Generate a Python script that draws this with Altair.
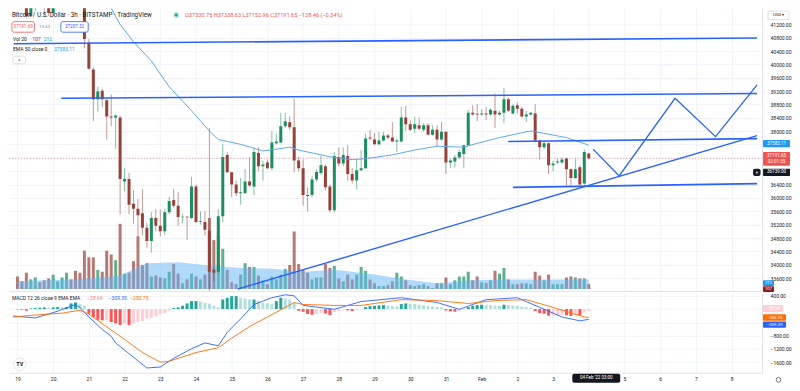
import altair as alt
import pandas as pd

# ---------------- data (3h bars, BTC/USD Bitstamp) ----------------
START = pd.Timestamp("2022-01-19 00:00")

opens = [42350, 42050, 41800, 41450, 41700, 42000, 41900, 41800, 41540, 42300, 42400, 42900, 43100, 43000, 42500, 41900,
         40650, 39850, 38960, 39210, 38930, 38440, 38410, 38410, 36490, 36570,
         35830, 35680, 35540, 35110, 34710, 35400, 35170, 35000, 35570, 35940,
         35770, 35420, 35440, 35400, 36340, 35280, 35280, 35020, 33850, 33790,
         35450, 37290, 36770, 36400, 36140, 36140, 36490, 36340, 37350, 36950,
         37060, 36890, 37640, 37660, 38150, 38270, 38120, 37120, 36890, 36090,
         36090, 36550, 36750, 36950, 36340, 35630, 37230, 37030, 37260, 36720,
         36520, 36830, 36890, 37810, 37750, 37610, 37720, 37870, 37810, 37690,
         37690, 38410, 38210, 38070, 38180, 38040, 38180, 37890, 38040, 37750,
         37980, 37060, 37090, 37210, 37320, 37580, 38550, 38520, 38500, 38530,
         38500, 38610, 38500, 38550, 38960, 38530, 38780, 38670, 38440, 38500,
         38530, 37720, 37520, 37640, 36980, 37060, 37060, 37180, 36860, 36600,
         36920, 36430, 37330.75]
highs = [42550, 42200, 41900, 41850, 42100, 42300, 42000, 41900, 42400, 42600, 43100, 43300, 43500, 43200, 42700, 41950,
         40760, 39900, 39330, 39270, 38960, 39100, 38500, 38470, 36890, 36750,
         36230, 35970, 36260, 35250, 35570, 35660, 35660, 35660, 36030, 36260,
         36170, 35540, 35460, 36630, 36400, 35600, 35600, 38100, 33930, 35660,
         37610, 37380, 36780, 36520, 36600, 36860, 37210, 37490, 37520, 37120,
         37150, 38010, 37920, 38550, 38550, 38440, 38980, 37230, 37150, 36320,
         36660, 36860, 37260, 37000, 36400, 37380, 37520, 37520, 37580, 36890,
         37150, 37430, 37920, 38040, 37950, 37980, 37980, 37920, 38270, 37780,
         38730, 38760, 38320, 38440, 38410, 38240, 38240, 38180, 38180, 38270,
         37990, 37180, 37290, 37440, 37580, 38640, 38780, 38810, 38670, 38730,
         38700, 39130, 38610, 39300, 39010, 38810, 38870, 38730, 38610, 38580,
         38810, 37750, 37720, 37660, 37120, 37180, 37210, 37210, 36890, 37180,
         36980, 37460, 37338.63]
lows = [41900, 41700, 41380, 41420, 41600, 41800, 41500, 41450, 41500, 42100, 42300, 42700, 42800, 42400, 41800, 40480,
        39850, 38300, 38580, 38730, 37750, 38150, 37470, 35510, 36200, 35510,
        35230, 34850, 34880, 34510, 34360, 35000, 34850, 34900, 35510, 35710,
        35170, 35250, 34740, 35370, 35250, 35200, 34880, 32950, 33500, 33730,
        35280, 36750, 36030, 36060, 35800, 36140, 36340, 36090, 36800, 36520,
        36860, 36830, 37610, 37640, 38100, 38040, 36770, 36800, 35770, 35600,
        36030, 36490, 36690, 36230, 35570, 35570, 36950, 36950, 36520, 36430,
        36260, 36800, 36860, 37720, 37580, 37580, 37690, 37750, 37670, 37380,
        37670, 38010, 38010, 37950, 38040, 37980, 37870, 37870, 37520, 37720,
        36720, 36890, 36920, 37180, 36890, 37560, 38470, 38300, 38470, 38330,
        38470, 38100, 38470, 38240, 38580, 38500, 38530, 38410, 38270, 38470,
        37660, 37150, 37460, 36720, 36800, 37030, 37030, 36370, 36320, 36570,
        36340, 36340, 37152.96]
closes = [42050, 41800, 41450, 41760, 42000, 41900, 41800, 41540, 42300, 42400, 42900, 43100, 43000, 42500, 41900, 40760,
          39870, 38960, 39190, 38960, 38440, 38410, 38470, 36570, 36570, 35800,
          35680, 35480, 35110, 34710, 35400, 35170, 35000, 35570, 35910, 35770,
          35430, 35440, 35420, 36340, 35280, 35300, 35050, 33790, 33760, 35450,
          37230, 36770, 36400, 36140, 36170, 36490, 36370, 37380, 36950, 37000,
          36890, 37660, 37690, 38150, 38300, 38120, 37120, 36890, 36090, 36060,
          36550, 36780, 36980, 36320, 35630, 37260, 37030, 37290, 36720, 36520,
          36830, 36890, 37780, 37780, 37610, 37720, 37870, 37810, 37690, 37720,
          38410, 38210, 38040, 38210, 38070, 38180, 37890, 38040, 37750, 37980,
          37060, 37120, 37210, 37380, 37580, 38550, 38500, 38500, 38530, 38500,
          38640, 38500, 38550, 38960, 38610, 38760, 38670, 38440, 38500, 38550,
          37720, 37520, 37640, 36980, 37030, 37090, 37150, 36860, 36600, 36860,
          36400, 37380, 37191.65]
volumes = [276, 170, 360, 212, 254, 148, 191, 233, 318, 170, 254, 360, 212, 403, 360, 848,
           700, 700, 424, 382, 848, 763, 636, 1442, 339, 360,
           615, 1166, 530, 572, 276, 297, 254, 233, 382, 551,
           339, 127, 212, 339, 276, 212, 318, 1569, 1081, 1187,
           890, 424, 148, 106, 318, 572, 488, 488, 297, 191,
           106, 276, 212, 318, 445, 530, 1272, 551, 424, 360,
           212, 254, 254, 551, 466, 509, 233, 170, 318, 212,
           318, 488, 403, 212, 127, 64, 64, 85, 170, 360,
           276, 191, 85, 64, 85, 106, 64, 21, 127, 127,
           254, 106, 191, 276, 276, 382, 191, 276, 148, 127,
           191, 403, 339, 466, 212, 106, 106, 127, 127, 106,
           382, 297, 191, 318, 106, 106, 106, 254, 276, 254,
           233, 233, 107]
macd_hist = [-10, -20, -50, 20, 30, 40, 50, 45, 50, 60, 55, 60, 170, 200, 150, 100,
             -140, -240, -320, -340, -340, -390, -430, -480, -450, -480,
             -430, -390, -360, -290, -260, -220, -160, -120, -50, 30,
             50, 100, 170, 240, 240, 220, 190, 165, 100, 50,
             290, 340, 390, 390, 340, 320, 290, 290, 240, 190,
             170, 150, 240, 340, 320, 290, 190, -50, -80, -150,
             -170, -150, -120, -130, -180, -90, -60, -20, -40, -60,
             -40, -10, 60, 90, 100, 110, 120, 110, 95, 80,
             150, 170, 160, 150, 130, 115, 90, 80, 55, 50,
             -40, -70, -80, -60, -30, 60, 100, 120, 130, 125,
             120, 105, 95, 130, 120, 110, 95, 70, 55, 45,
             -60, -120, -140, -200, -200, -190, -170, -190, -210, -180,
             -190, -100, -58.64]

# sparse readings (bar index from START, value)
macd_idx = [-1, 4, 9, 13, 14, 16, 19, 21, 22, 29, 32, 35, 39, 42, 45, 47, 50, 53, 57, 60, 62, 64, 71, 77, 86, 94, 99, 105, 112, 117, 122, 126, 128]
macd_vals = [-209, -267, -64, 139, 52, -238, -614, -817, -1020, -1774, -1745, -1484, -1194, -1020, -1107, -701, -296, 139, 342, 429, 400, 110, -6, 226, 342, 197, -6, 284, 342, 52, -238, -354, -309.39]
signal_idx = [-1, 4, 10, 14, 16, 19, 23, 28, 32, 34, 40, 45, 48, 52, 56, 62, 64, 71, 77, 86, 94, 101, 107, 114, 120, 127, 128]
signal_vals = [-238, -180, -122, -35, -151, -441, -817, -1310, -1600, -1571, -1310, -1165, -875, -528, -238, 197, 139, 110, 110, 284, 255, 168, 255, 284, 52, -238, -250.75]
ema_idx = [21, 23, 26, 30, 34, 39, 43, 45, 50, 55, 61, 63, 70, 75, 78, 84, 89, 94, 100, 103, 108, 115, 123, 128]
ema_vals = [41683, 41195, 40678, 40104, 39329, 38612, 38009, 37751, 37607, 37406, 37521, 37435, 37234, 37148, 37177, 37292, 37435, 37550, 37521, 37636, 37808, 38009, 37808, 37583.11]
vma_idx = [0, 6, 12, 19, 23, 29, 36, 42, 50, 57, 64, 71, 75, 80, 87, 94, 102, 108, 115, 122, 128]
vma_vals = [170, 191, 212, 254, 297, 572, 594, 530, 466, 445, 382, 424, 382, 318, 212, 127, 191, 212, 212, 212, 212]

# drawings (time, price)
line1_t = ["2022-01-18T21:40:00", "2022-02-08T17:07:00"]; line1_p = [40621, 40793]
line2_t = ["2022-01-20T05:27:00", "2022-02-08T17:07:00"]; line2_p = [38985, 39128]
line3_t = ["2022-02-01T17:50:00", "2022-02-08T17:07:00"]; line3_p = [37693, 37779]
line4_t = ["2022-02-01T21:00:00", "2022-02-08T17:07:00"]; line4_p = [36316, 36431]
line5_t = ["2022-01-25T04:10:00", "2022-02-08T17:07:00"]; line5_p = [33274, 37866]
zig_t = ["2022-02-04T02:55:00", "2022-02-04T20:25:00", "2022-02-06T10:00:00", "2022-02-07T13:15:00", "2022-02-08T17:07:00"]
zig_p = [37464, 36660, 38985, 37837, 39387]

last_price = 37191.65

# ---------------- frames ----------------
def ts(i):
    return (START + pd.Timedelta(hours=3 * i)).strftime("%Y-%m-%dT%H:%M:%S")

n = len(opens)
df = pd.DataFrame({"t": [ts(i) for i in range(n)], "o": opens, "h": highs, "l": lows,
                   "c": closes, "v": volumes, "hist": macd_hist})
df["dir"] = ["up" if c >= o else "down" for o, c in zip(opens, closes)]
hcol = []
prev = 0
for hv in macd_hist:
    if hv >= 0:
        hcol.append("#26a69a" if hv >= prev else "#b2dfdb")
    else:
        hcol.append("#ff5252" if hv < prev else "#ffcdd2")
    prev = hv
df["hcol"] = hcol

def idx_df(idx, vals):
    return pd.DataFrame({"t": [ts(i) for i in idx], "p": vals})

def draw_df(t, p):
    return pd.DataFrame({"t": t, "p": p})

# ---------------- layout ----------------
W, H1, H2 = 754, 283, 79
SX = W / 770
SY1 = H1 / 295
SY2 = H2 / 82
FONT = "Roboto"

def px(x): return x * SX
def py(y): return y * SY1
def my(y): return (y - 296) * SY2

XS = alt.Scale(domain=[alt.DateTime(year=2022, month=1, date=18, hours=21, minutes=40),
                       alt.DateTime(year=2022, month=2, date=8, hours=17, minutes=7)])
DAYS = [alt.DateTime(year=2022, month=1, date=d) for d in range(19, 32)] + \
       [alt.DateTime(year=2022, month=2, date=d) for d in range(1, 9)]
PS = alt.Scale(domain=[33217, 41683], nice=False, zero=False)
VS = alt.Scale(domain=[-42, 6212], nice=False, zero=False)
MS = alt.Scale(domain=[-1919, 458], nice=False, zero=False)

GRID = "#f0f3fa"
EDGE = "#e0e3eb"
XAX_TOP = alt.Axis(values=DAYS, labels=False, ticks=False, domain=True, domainColor=EDGE,
                   grid=True, gridColor=GRID, title=None, minExtent=0, maxExtent=0)
XAX_BOT = alt.Axis(values=DAYS, labelExpr="date(datum.value) == 1 ? 'Feb' : (date(datum.value) == 4 ? '' : '' + date(datum.value))",
                   labelFontSize=5, labelColor="#131722", labelFont=FONT, labelFlush=False, labelOverlap=False,
                   ticks=False, domain=True, domainColor=EDGE, grid=True, gridColor=GRID, labelPadding=4,
                   title=None, minExtent=13, maxExtent=13)
# labels hidden behind the coloured price badges are left blank, as on the reference
PAX = alt.Axis(orient="right", values=list(range(33600, 41201, 400)),
               labelExpr="indexof([37600, 37200, 36800], datum.value) >= 0 ? '' : format(datum.value, '.2f')",
               labelFontSize=5, labelColor="#131722", labelFont=FONT, ticks=False, domain=True, domainColor=EDGE,
               grid=True, gridColor=GRID, labelPadding=8, title=None, minExtent=30, maxExtent=30, labelOverlap=False)
MAX = alt.Axis(orient="right", values=[400, 0, -400, -800, -1200, -1600],
               labelExpr="(datum.value == 0 || datum.value == -400) ? '' : format(datum.value, '.2f')",
               labelFontSize=5, labelColor="#131722", labelFont=FONT, ticks=False, domain=True, domainColor=EDGE,
               grid=True, gridColor=GRID, labelPadding=8, title=None, minExtent=30, maxExtent=30, labelOverlap=False)

xt = alt.X("t:T", scale=XS, axis=XAX_TOP)
xb = alt.X("t:T", scale=XS, axis=XAX_BOT)
one = pd.DataFrame({"k": [0]})

def T(x, y, s, color="#131722", size=5.5, align="left", weight="normal"):
    return alt.Chart(one).mark_text(text=s, align=align, baseline="middle", fontSize=size, color=color,
                                    fontWeight=weight, font=FONT).encode(x=alt.value(x), y=alt.value(y))

def R(x1, y1, x2, y2, fill, stroke=None, radius=0):
    kw = dict(fill=fill, cornerRadius=radius)
    if stroke:
        kw.update(stroke=stroke, strokeWidth=0.8)
    return alt.Chart(one).mark_rect(**kw).encode(x=alt.value(x1), x2=alt.value(x2),
                                                 y=alt.value(y1), y2=alt.value(y2))

def C(x, y, size, color, opacity=1.0, filled=True):
    if filled:
        m = alt.Chart(one).mark_circle(size=size, color=color, opacity=opacity)
    else:
        m = alt.Chart(one).mark_point(size=size, color=color, filled=False, strokeWidth=0.8)
    return m.encode(x=alt.value(x), y=alt.value(y))

DIRC = alt.Color("dir:N", scale=alt.Scale(domain=["up", "down"], range=["#26a69a", "#ef5350"]), legend=None)
VOLC = alt.Color("dir:N", scale=alt.Scale(domain=["up", "down"], range=["#1a8e5f", "#954239"]), legend=None)

# ---------------- price pane ----------------
vol_bars = alt.Chart(df).mark_bar(size=3, opacity=0.7).encode(
    x=xt, y=alt.Y("v:Q", scale=VS, axis=None), y2=alt.datum(0), color=VOLC)
vol_ma = alt.Chart(idx_df(vma_idx, vma_vals)).mark_area(color="#64b5f6", opacity=0.5).encode(
    x=xt, y=alt.Y("p:Q", scale=VS, axis=None), y2=alt.datum(0))
vol_layer = alt.layer(vol_bars, vol_ma)

def pline(t, p, color="#2962ff", width=1.5):
    return alt.Chart(draw_df(t, p)).mark_line(color=color, strokeWidth=width, clip=True).encode(
        x=xt, y=alt.Y("p:Q", scale=PS, axis=PAX))

wicks = alt.Chart(df).mark_rule(strokeWidth=1, opacity=0.55, clip=True).encode(
    x=xt, y=alt.Y("l:Q", scale=PS, axis=PAX), y2="h:Q", color=DIRC)
bodies = alt.Chart(df).mark_bar(size=3, clip=True).encode(
    x=xt, y=alt.Y("o:Q", scale=PS, axis=PAX), y2="c:Q", color=DIRC)
ema = alt.Chart(idx_df(ema_idx, ema_vals)).mark_line(color="#5ea8f2", strokeWidth=1, clip=True).encode(
    x=xt, y=alt.Y("p:Q", scale=PS, axis=PAX))
lastline = alt.Chart(pd.DataFrame({"p": [last_price]})).mark_rule(
    color="#ef5350", strokeDash=[1, 2], opacity=0.6).encode(y=alt.Y("p:Q", scale=PS, axis=PAX))

price_marks = [wicks, bodies, ema, lastline,
               pline(line1_t, line1_p, width=1.6), pline(line2_t, line2_p, width=1.6),
               pline(line3_t, line3_p, width=1.6), pline(line4_t, line4_p, width=1.6),
               pline(line5_t, line5_p, width=1.4), pline(zig_t, zig_p, width=1.3)]

# legend / annotations (price pane)
ann = [
    T(px(3), py(7), "Bitcoin / U.S. Dollar · 3h · BITSTAMP · TradingView", size=6.3),
    C(px(171), py(7), 45, "#26a69a", 0.2), C(px(171), py(7), 12, "#26a69a"),
    T(px(180), py(7), "O37330.75 H37338.63 L37152.96 C37191.65 −128.46 (−0.34%)", color="#ef5350", size=5.6),
    R(px(3), py(14), px(26), py(25), "white", "#ef5350", 2),
    T(px(14.5), py(19.5), "37191.69", color="#ef5350", size=4.6, align="center"),
    T(px(31), py(19.5), "15.63", color="#787b86", size=4.3),
    R(px(53), py(14), px(81), py(25), "white", "#2962ff", 2),
    T(px(67), py(19.5), "37207.32", color="#2962ff", size=4.6, align="center"),
    T(px(4), py(32), "Vol 20", size=5),
    T(px(24), py(32), "107", color="#a52a2a", size=5),
    T(px(35.5), py(32), "212", color="#2196f3", size=5),
    T(px(4), py(43), "EMA 50 close 0", size=5),
    T(px(46), py(43), "37583.11", color="#2196f3", size=5),
    R(px(4), py(50), px(17), py(58), "white", "#d1d4dc", 2),
    T(px(10.5), py(55), "^", size=5, align="center"),
    # right price scale badges
    R(W + 6, py(3), W + 27, py(12), "white", "#d1d4dc", 2),
    T(W + 16.5, py(7.5), "USD ▾", size=4.3, align="center"),
    R(W + 1, py(137.5), W + 28, py(145), "#2196f3", None, 1),
    T(W + 14.5, py(141.3), "37583.11", color="white", size=4.6, align="center"),
    R(W + 1, py(150), W + 28, py(164.5), "#ef5350", None, 1),
    T(W + 14.5, py(154), "37191.65", color="white", size=4.6, align="center"),
    T(W + 14.5, py(160.5), "02:01:35", color="white", size=4.6, align="center"),
    R(W - 9, py(167.5), W - 1.5, py(175), "#131722", None, 2),
    T(W - 5.2, py(171.3), "+", color="white", size=5, align="center"),
    R(W + 1, py(167.5), W + 28, py(175), "#131722", None, 1),
    T(W + 14.5, py(171.3), "36739.00", color="white", size=4.6, align="center"),
    R(W + 1, py(283.8), W + 12, py(289.8), "#2196f3", None, 1),
    T(W + 6.5, py(286.9), "212", color="white", size=4.2, align="center"),
    R(W + 1, py(290.2), W + 12, py(296.2), "#8b1c1c", None, 1),
    T(W + 6.5, py(293.3), "107", color="white", size=4.2, align="center"),
]

price_layer = alt.layer(*price_marks, *ann)
top = alt.layer(vol_layer, price_layer).resolve_scale(y="independent").properties(width=W, height=H1)

# ---------------- MACD pane ----------------
hist_bars = alt.Chart(df).mark_bar(size=3).encode(
    x=xb, y=alt.Y("hist:Q", scale=MS, axis=MAX), y2=alt.datum(0), color=alt.Color("hcol:N", scale=None))
macd_line = alt.Chart(idx_df(macd_idx, macd_vals)).mark_line(color="#2962ff", strokeWidth=0.9, clip=True).encode(
    x=xb, y=alt.Y("p:Q", scale=MS, axis=MAX))
sig_line = alt.Chart(idx_df(signal_idx, signal_vals)).mark_line(color="#ff6d00", strokeWidth=0.9, clip=True).encode(
    x=xb, y=alt.Y("p:Q", scale=MS, axis=MAX))

mann = [
    T(px(3), my(300), "MACD 12 26 close 9 EMA EMA", size=5),
    T(px(80), my(300), "−58.64", color="#f77c80", size=5),
    T(px(102), my(300), "−309.39", color="#2962ff", size=5),
    T(px(124), my(300), "−250.75", color="#ff6d00", size=5),
    R(W + 1, my(307.5), W + 21, my(315), "#ffcdd2", None, 1),
    T(W + 11, my(311.3), "−58.64", color="white", size=4.5, align="center"),
    R(W + 1, my(317.3), W + 24, my(324), "#ff6d00", None, 1),
    T(W + 12.5, my(320.6), "−250.75", color="white", size=4.3, align="center"),
    R(W + 1, my(324.6), W + 24, my(331.3), "#2962ff", None, 1),
    T(W + 12.5, my(328), "−309.39", color="white", size=4.3, align="center"),
    C(px(11), my(369), 150, "white"),
    C(px(11), my(369), 150, "#d1d4dc", filled=False),
    T(px(11), my(369), "TV", size=5.5, weight="bold", align="center"),
    R(px(576), H2 + 1, px(625), H2 + 10, "#131722", None, 2),
    T(px(600.5), H2 + 5.5, "04 Feb '22   03:00", color="white", size=4.5, align="center"),
    C(W + 16.5, H2 + 7, 22, "#131722", filled=False),
]

bottom = alt.layer(hist_bars, macd_line, sig_line, *mann).properties(width=W, height=H2)

chart = alt.vconcat(top, bottom, spacing=0).properties(padding=0, background="white").configure_view(stroke=None)

chart.save("out.html", embed_options={"renderer": "svg", "actions": False})
